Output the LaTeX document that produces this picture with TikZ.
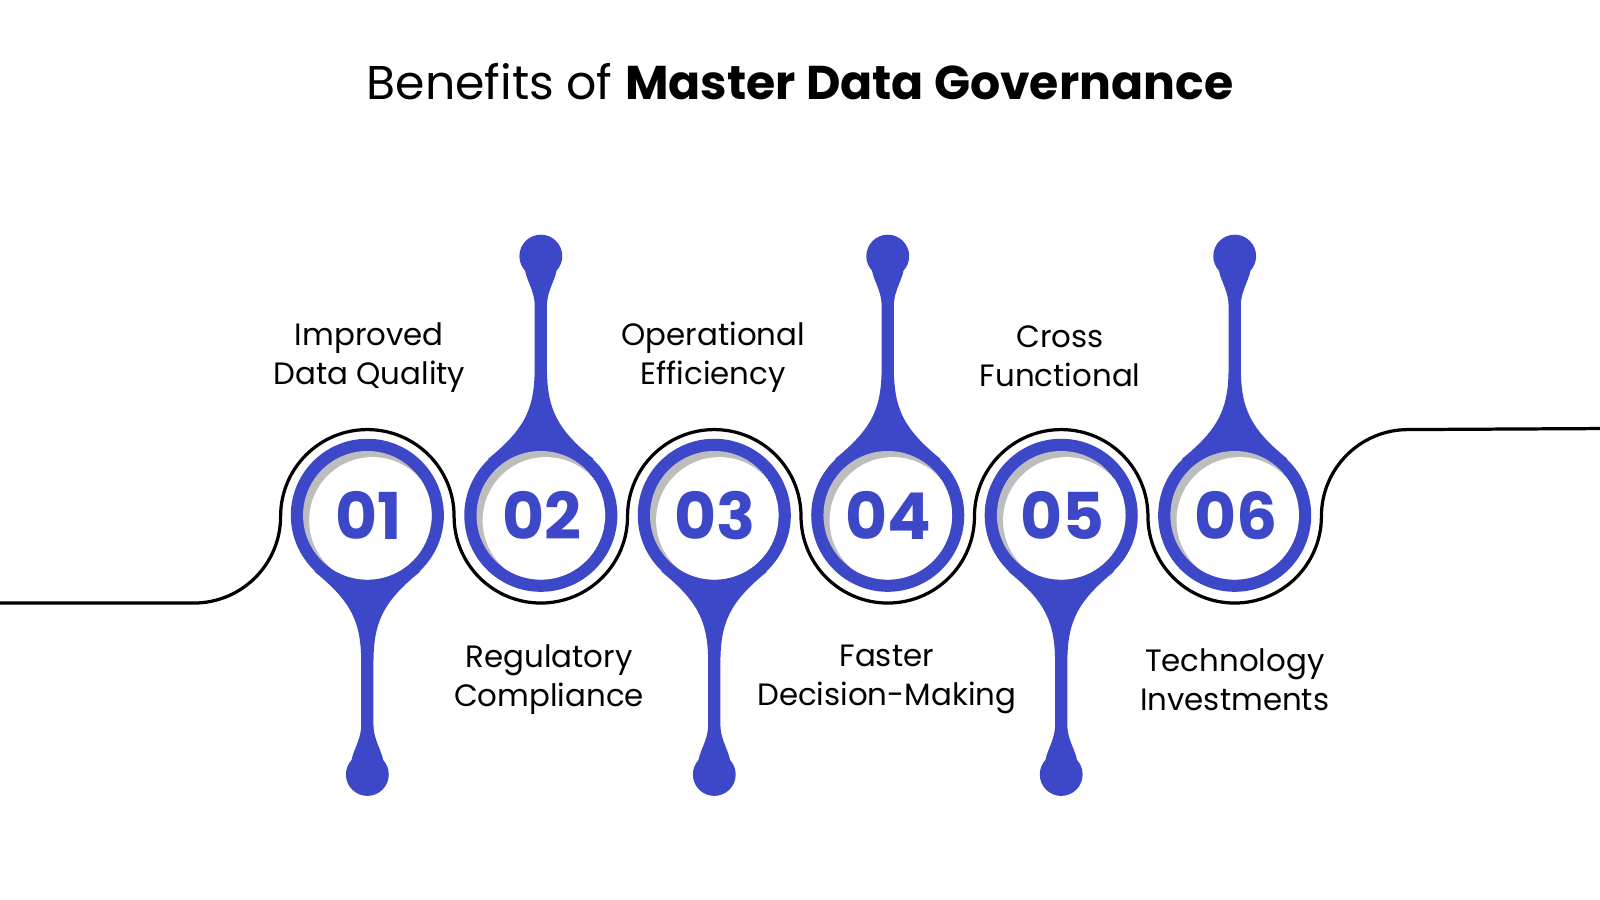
\documentclass[tikz,border=0pt]{standalone}
\usepackage{fontspec}
\setmainfont{Poppins}
\definecolor{mdgblue}{HTML}{3D48C8}
\definecolor{mdgshade}{HTML}{BDBDBD}

\begin{document}
\begin{tikzpicture}[x=0.01cm,y=0.01cm]
  \tikzset{num/.style={text=mdgblue,font=\fontsize{18}{21}\selectfont\bfseries},
           lbl/.style={align=center,font=\fontsize{8.6}{10.9}\selectfont}}
  \useasboundingbox (0,0) rectangle (1568,882);

  \node (title) at (784,802) {\fontsize{13.2}{16}\selectfont Benefits of \textbf{Master Data Governance}};

  % stems, rings and numbers
  \foreach \i/\d in {1/-1,2/1,3/-1,4/1,5/-1,6/1} {
    \pgfmathsetmacro{\c}{360+170*(\i-1)}
    \fill[mdgblue] (\c-52,377+\d*55) .. controls (\c-15,377+\d*85) and (\c-6,377+\d*105) .. (\c-6,377+\d*145)
      -- (\c-6,377+\d*205) .. controls (\c-6,377+\d*222) and (\c-16,377+\d*232) .. (\c-16,377+\d*245)
      -- (\c+16,377+\d*245) .. controls (\c+16,377+\d*232) and (\c+6,377+\d*222) .. (\c+6,377+\d*205)
      -- (\c+6,377+\d*145) .. controls (\c+6,377+\d*105) and (\c+15,377+\d*85) .. (\c+52,377+\d*55) -- cycle;
    \fill[mdgblue] (\c,377+\d*254) circle (21);
    \fill[mdgblue] (\c,377) circle (75);
    \begin{scope}
      \clip (\c,377) circle (63);
      \fill[mdgshade] (\c,377) circle (63);
      \fill[white] (\c+5,372) circle (62);
    \end{scope}
    \node[num] (n\i) at (\c+1,377) {0\i};
  }

  % wave line
  \draw[line width=0.9pt] (0,291) -- (190,291) arc[start angle=-90,end angle=0,radius=85]
    \foreach \k in {1,2,3} { arc[start angle=180,end angle=0,radius=85] arc[start angle=180,end angle=360,radius=85] }
    arc[start angle=180,end angle=90,radius=85] -- (1568,462);

  % labels
  \node[lbl] (l1) at (362,532) {Improved\\Data Quality};
  \node[lbl] (l2) at (538,216) {Regulatory\\Compliance};
  \node[lbl] (l3) at (699,532) {Operational\\Efficiency};
  \node[lbl] (l4) at (869,216) {Faster\\Decision-Making};
  \node[lbl] (l5) at (1039,533) {Cross\\Functional};
  \node[lbl] (l6) at (1210,216) {Technology\\Investments};
\end{tikzpicture}
\end{document}
